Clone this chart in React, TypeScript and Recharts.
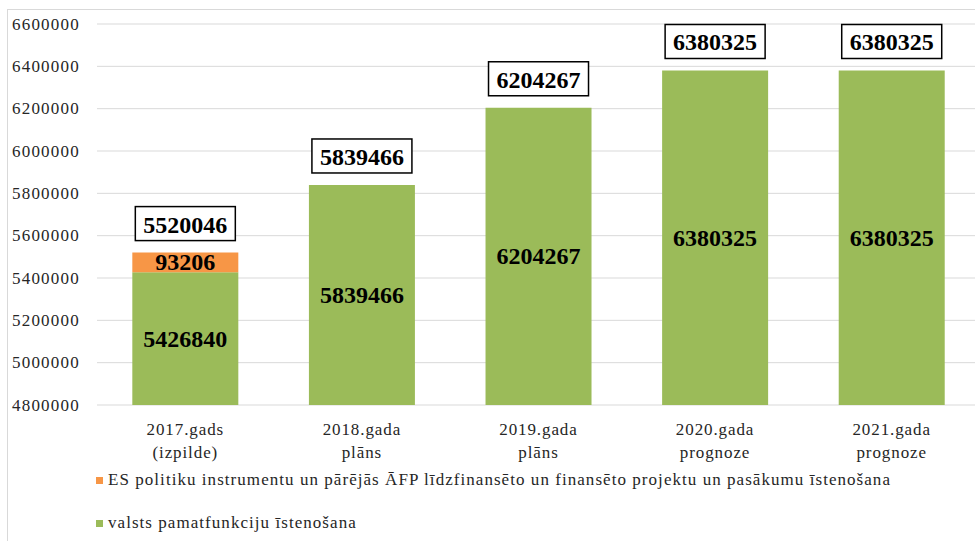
import React from "react";
import { BarChart, Bar, XAxis, YAxis, CartesianGrid, Legend, LabelList } from "recharts";

const categories = [
  "2017.gads\n(izpilde)",
  "2018.gada\nplāns",
  "2019.gada\nplāns",
  "2020.gada\nprognoze",
  "2021.gada\nprognoze",
];
const baseValues = [5426840, 5839466, 6204267, 6380325, 6380325];
const euValues = [93206, 0, 0, 0, 0];
const yTicks = [4800000, 5000000, 5200000, 5400000, 5600000, 5800000, 6000000, 6200000, 6400000, 6600000];
const baseName = "valsts pamatfunkciju īstenošana";
const euName = "ES politiku instrumentu un pārējās ĀFP līdzfinansēto un finansēto projektu un pasākumu īstenošana";

const data = categories.map((name, i) => ({
  name,
  base: baseValues[i],
  eu: euValues[i],
  total: baseValues[i] + euValues[i],
}));

const W = 985;
const H = 541;
const MARGIN = { top: 24, right: 5, bottom: 80, left: 0 };
const X_AXIS_H = 56;
const PLOT_BOTTOM = H - MARGIN.bottom - X_AXIS_H;

const SERIF = '"Liberation Serif", "DejaVu Serif", serif';
const GREEN = "#9bbb59";
const ORANGE = "#f79646";
const TEXT = "#262626";

const YTick = ({ y, payload }: any) => (
  <text x={12} y={y} dominantBaseline="central" fontFamily={SERIF} fontSize={17} letterSpacing={1.2} fill={TEXT}>
    {payload.value}
  </text>
);

const XTick = ({ x, y, payload }: any) => {
  const lines = String(payload.value).split("\n");
  return (
    <text x={x} textAnchor="middle" dominantBaseline="central" fontFamily={SERIF} fontSize={17} letterSpacing={0.9} fill={TEXT}>
      {lines.map((l, i) => (
        <tspan key={i} x={x} y={y + 24 + i * 23}>
          {l}
        </tspan>
      ))}
    </text>
  );
};

// label in the middle of the visible part of a segment
const InnerLabel = (props: any) => {
  const vb = props.viewBox ?? props;
  const { x, y, width, height } = vb;
  if (!props.value) return null;
  const bottom = Math.min(y + height, PLOT_BOTTOM);
  return (
    <text
      x={x + width / 2}
      y={(y + bottom) / 2}
      textAnchor="middle"
      dominantBaseline="central"
      fontFamily={SERIF}
      fontSize={24}
      fontWeight="bold"
      fill="#000"
    >
      {props.value}
    </text>
  );
};

// boxed total above the stack
const TotalBox = (props: any) => {
  const vb = props.viewBox ?? props;
  const cx = vb.x + vb.width / 2;
  const cy = vb.y - 29;
  return (
    <g>
      <rect x={cx - 50} y={cy - 17} width={100} height={34} fill="#fff" stroke="#000" strokeWidth={1.5} />
      <text x={cx} y={cy + 1} textAnchor="middle" dominantBaseline="central" fontFamily={SERIF} fontSize={24} fontWeight="bold" fill="#000">
        {props.value}
      </text>
    </g>
  );
};

const LegendContent = ({ payload }: any) => {
  const items = (payload ?? [])
    .filter((it: any) => it.dataKey === "eu" || it.dataKey === "base")
    .sort((a: any, b: any) => (a.dataKey === "eu" ? -1 : 1) - (b.dataKey === "eu" ? -1 : 1));
  return (
    <div style={{ fontFamily: SERIF, fontSize: 17, letterSpacing: 1.05, color: TEXT }}>
      {items.map((it: any, i: number) => (
        <div key={i} style={{ display: "flex", alignItems: "center", height: 20, marginBottom: 23 }}>
          <span style={{ width: 7, height: 7, background: it.color, marginRight: 5, display: "inline-block" }} />
          <span>{it.value}</span>
        </div>
      ))}
    </div>
  );
};

export default function App() {
  return (
    <div style={{ position: "relative", width: 975, height: 541, overflow: "hidden", background: "#fff" }}>
      <style>{"body{margin:0;overflow:hidden}"}</style>
      <div
        style={{
          position: "absolute",
          left: 7,
          top: 9,
          right: 0,
          bottom: 0,
          borderLeft: "1px solid #d9d9d9",
          borderTop: "1px solid #d9d9d9",
        }}
      />
      <div style={{ position: "absolute", left: 0, top: 0 }}>
        <BarChart width={W} height={H} data={data} margin={MARGIN} barCategoryGap="20%">
          <CartesianGrid vertical={false} stroke="#d9d9d9" />
          <XAxis
            dataKey="name"
            height={X_AXIS_H}
            axisLine={false}
            tickLine={false}
            tickSize={0}
            tickMargin={0}
            tick={<XTick />}
            interval={0}
          />
          <XAxis xAxisId="totals" dataKey="name" hide />
          <YAxis
            width={97}
            domain={[4800000, 6600000]}
            ticks={yTicks}
            allowDataOverflow
            axisLine={false}
            tickLine={false}
            tickSize={0}
            tick={<YTick />}
          />
          <Legend
            layout="horizontal"
            verticalAlign="middle"
            align="center"
            content={<LegendContent />}
            wrapperStyle={{ left: 96, top: 470, width: 880 }}
          />
          <Bar dataKey="base" name={baseName} stackId="a" fill={GREEN} isAnimationActive={false}>
            <LabelList dataKey="base" content={<InnerLabel />} />
          </Bar>
          <Bar dataKey="eu" name={euName} stackId="a" fill={ORANGE} isAnimationActive={false}>
            <LabelList dataKey="eu" content={<InnerLabel />} />
          </Bar>
          <Bar xAxisId="totals" dataKey="total" fill="none" legendType="none" isAnimationActive={false}>
            <LabelList dataKey="total" content={<TotalBox />} />
          </Bar>
        </BarChart>
      </div>
    </div>
  );
}
